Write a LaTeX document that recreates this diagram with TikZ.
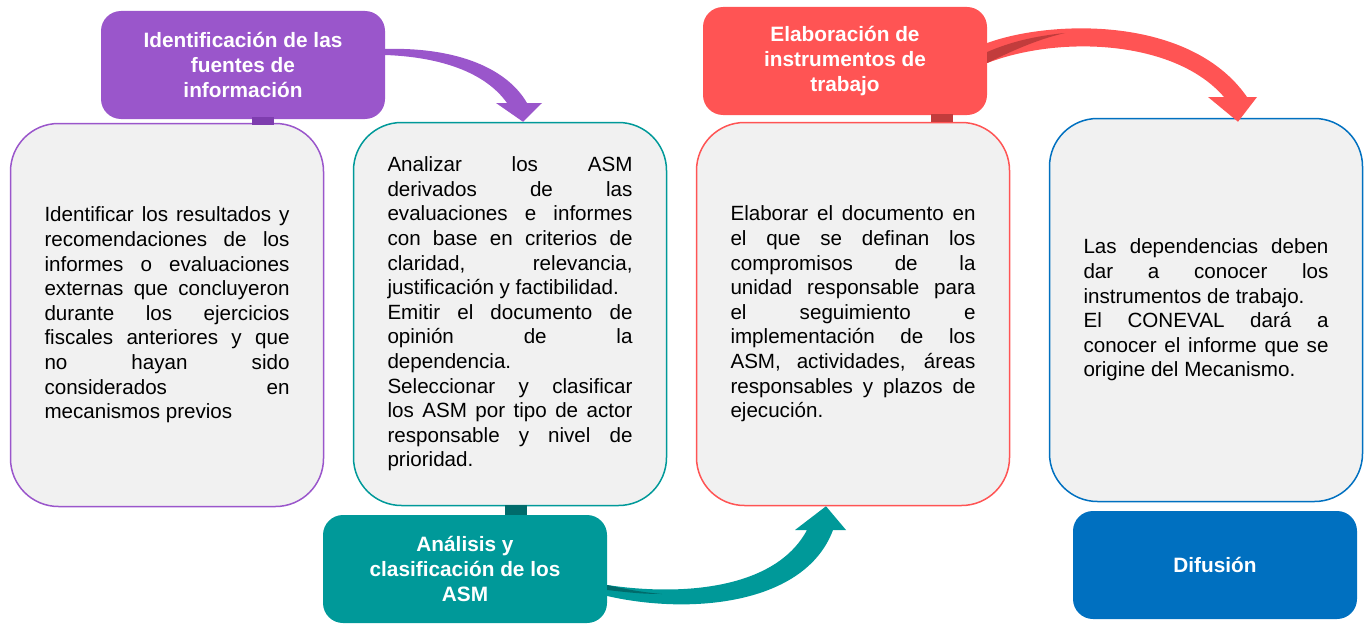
\documentclass[tikz,border=0pt]{standalone}
\usepackage{fontspec}
\setmainfont{Liberation Sans}
\usetikzlibrary{calc}

\definecolor{morado}{HTML}{9A56CB}
\definecolor{moradoosc}{HTML}{7E3DAE}
\definecolor{verde}{HTML}{009999}
\definecolor{verdeosc}{HTML}{006B6B}
\definecolor{rojo}{HTML}{FF5454}
\definecolor{rojoosc}{HTML}{C23C3C}
\definecolor{azul}{HTML}{0070C0}
\definecolor{fondo}{HTML}{F1F1F1}

\tikzset{
	caja/.style={rectangle, rounded corners=48pt, draw, line width=1.5pt, fill=fondo,
		minimum width=313pt, minimum height=383pt, text width=245pt, inner sep=0pt,
		align=justify, font=\fontsize{20.6}{24.6}\selectfont,
		execute at begin node={\tolerance=10000 \hbadness=10000 }},
	titulo/.style={rectangle, rounded corners=20pt, minimum width=284pt, minimum height=108pt,
		inner sep=0pt, text=white, align=center, font=\fontsize{20.8}{25}\selectfont\bfseries},
	pestana/.style={rectangle, inner sep=0pt, minimum width=22pt, minimum height=8pt},
}

\begin{document}
\begin{tikzpicture}[x=1pt, y=-1pt]
		\useasboundingbox (0, 0) rectangle (1364, 626);

		\node[caja, draw=morado] (boxfuentes) at (167, 315) {Identificar los resultados y\linebreak recomendaciones de los\linebreak informes o evaluaciones\linebreak externas que concluyeron\linebreak durante los ejercicios\linebreak fiscales anteriores y que\linebreak no hayan sido\linebreak considerados en\linebreak mecanismos previos};
		\node[caja, draw=verde] (boxasm) at (510, 314) {Analizar los ASM\linebreak derivados de las\linebreak evaluaciones e informes\linebreak con base en criterios de\linebreak claridad, relevancia,\linebreak justificación y factibilidad.\par Emitir el documento de\linebreak opinión de la\linebreak dependencia.\par Seleccionar y clasificar\linebreak los ASM por tipo de actor\linebreak responsable y nivel de\linebreak prioridad.};
		\node[caja, draw=rojo] (boxinstr) at (853, 314) {Elaborar el documento en\linebreak el que se definan los\linebreak compromisos de la\linebreak unidad responsable para\linebreak el seguimiento e\linebreak implementación de los\linebreak ASM, actividades, áreas\linebreak responsables y plazos de\linebreak ejecución.};
		\node[caja, draw=azul] (boxdif) at (1206, 310) {Las dependencias deben\linebreak dar a conocer los\linebreak instrumentos de trabajo.\par El CONEVAL dará a\linebreak conocer el informe que se\linebreak origine del Mecanismo.};

		\node[titulo, fill=morado] (hdrfuentes) at (243, 65) {Identificación de las\\fuentes de\\información};
		\node[titulo, fill=rojo] (hdrinstr) at (845, 61) {Elaboración de\\instrumentos de\\trabajo};
		\node[titulo, fill=verde] (hdrasm) at (465, 569) {Análisis y\\clasificación de los\\ASM};
		\node[titulo, fill=azul] (hdrdif) at (1215, 565) {Difusión};

		\node[pestana, fill=moradoosc] (tabfuentes) at (263, 121) {};
		\node[pestana, fill=rojoosc] (tabinstr) at (942, 118) {};
		\node[pestana, fill=verdeosc, minimum height=10pt] (tabasm) at (516, 510) {};

		\fill[morado] ($(hdrfuentes.east)+(0,-16)$) .. controls (450, 47) and (505, 65) .. (527, 103)
			-- (542, 103) -- ($(boxasm.north)+(13,0)$) -- (496, 103) -- (507, 103)
			.. controls (485, 72) and (440, 57) .. ($(hdrfuentes.east)+(0,-10)$) -- cycle;

		\fill[rojo] ($(hdrinstr.east)+(0,-18)$) .. controls (1050, 20) and (1190, 15) .. (1247, 97)
			-- (1257, 97) -- ($(boxinstr.north)+(385,0)$) -- (1208, 97) -- (1224, 97)
			.. controls (1175, 40) and (1060, 35) .. ($(hdrinstr.east)+(0,2)$) -- cycle;
		\fill[rojoosc] ($(hdrinstr.east)+(0,-9)$) .. controls (1010, 42) and (1035, 36) .. (1065, 33)
			.. controls (1035, 40) and (1010, 52) .. ($(hdrinstr.east)+(0,2)$) -- cycle;

		\fill[verde] ($(hdrasm.east)+(0,16)$) .. controls (680, 596) and (775, 590) .. (807, 530)
			-- (795, 530) -- ($(boxinstr.south)+(-27,0)$) -- (846, 530) -- (833, 530)
			.. controls (805, 605) and (690, 615) .. ($(hdrasm.east)+(0,27)$) -- cycle;
		\fill[verdeosc] ($(hdrasm.east)+(0,16)$) .. controls (625, 589) and (640, 592) .. (662, 594)
			.. controls (640, 594) and (625, 592) .. ($(hdrasm.east)+(0,21)$) -- cycle;
	\end{tikzpicture}
\end{document}
